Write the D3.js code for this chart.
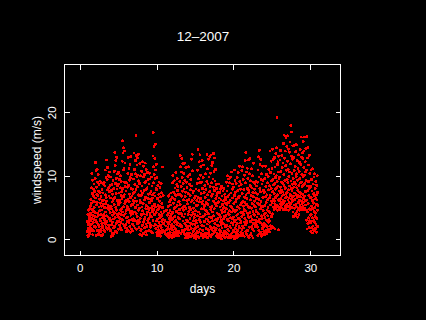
<!DOCTYPE html>
<html>
<head>
<meta charset="utf-8">
<script src="https://cdn.jsdelivr.net/npm/d3@7"></script>
<style>
  html, body { margin: 0; padding: 0; background: #000; }
  svg { display: block; }
</style>
</head>
<body>
<div id="my_chart"></div>
<script>
// half-hourly windspeed (m/s) for each day of december 2007, null = no reading
const dec01 = [1.2,2.8,0.6,3.9,1.7,0.4,2.3,4.6,1.1,3.0,0.8,2.5, 3.4,1.5,4.8,2.2,0.9,3.7,5.2,1.8,4.1,2.9,6.3,1.4, 5.6,2.4,8.1,3.3,10.4,4.7,1.6,7.2,3.8,9.3,0.7,6.0, 2.6,7.9,4.4,1.3,6.8,3.1,8.7,5.0,2.0,7.5,3.6,5.9]
const dec02 = [4.2,9.6,1.9,12.1,6.5,3.0,10.8,5.4,0.6,8.2,2.7,7.1, 3.5,11.0,5.8,1.4,9.0,4.1,6.9,2.3,10.2,7.6,3.8,0.9, 5.1,8.6,2.0,6.3,0.7,4.5,9.2,3.2,7.4,1.5,5.7,2.9, 1.2,6.7,3.9,8.9,0.6,5.2,2.5,7.8,4.6,1.8,6.1,3.4]
const dec03 = [2.1,7.3,0.8,5.5,8.8,3.6,1.4,6.2,4.0,9.0,2.6,5.0, 3.1,8.4,1.2,10.9,5.6,2.4,7.0,4.3,9.7,1.9,6.6,3.7, 6.0,12.5,2.8,9.4,4.9,11.3,1.6,7.8,3.5,10.1,5.3,8.1, 2.2,9.9,4.7,6.8,1.7,10.6,3.3,7.5,5.1,2.9,8.5,4.2]
const dec04 = [1.4,6.5,3.0,9.8,0.4,5.2,7.7,2.3,4.8,8.6,1.0,5.9, 3.8,0.6,7.1,2.7,9.3,4.4,1.8,6.3,3.2,8.0,0.9,5.5, 4.1,10.7,2.0,13.7,6.6,3.4,11.6,1.3,8.8,5.0,12.4,7.2, 2.5,9.6,4.6,12.9,1.1,7.9,3.9,10.3,6.1,2.8,8.4,5.7]
const dec05 = [3.6,8.7,1.6,10.5,5.4,2.9,7.3,4.1,9.4,2.2,6.2,3.3, 5.8,1.9,8.1,4.6,10.0,2.6,6.9,3.9,9.1,1.5,7.5,4.8, 6.4,12.3,3.1,15.5,8.0,4.3,13.6,2.4,10.9,6.7,14.4,5.1, 3.7,11.2,7.0,13.9,2.1,9.0,5.6,12.0,4.0,8.3,1.8,6.1]
const dec06 = [2.3,7.6,4.5,1.2,8.9,3.4,6.0,1.7,5.2,8.2,2.8,4.9, 3.5,10.4,6.3,1.4,12.9,4.7,8.5,2.6,11.1,5.9,3.0,9.3, 7.1,2.0,11.8,4.2,9.7,1.1,6.6,13.0,3.8,8.0,5.3,10.2, 4.4,1.6,6.8,3.1,7.9,2.4,5.5,1.3,4.0,7.2,2.9,6.1]
const dec07 = [3.2,9.5,5.7,13.6,2.1,7.4,11.0,4.3,8.6,1.8,6.5,10.3, 5.0,12.4,2.9,16.3,7.8,4.1,13.2,6.0,9.9,1.6,11.7,3.6, 8.3,2.5,12.8,5.4,10.1,3.0,7.0,13.4,4.6,9.2,1.9,6.8, 2.7,8.8,4.9,11.9,0.8,6.2,3.3,10.0,5.8,1.4,7.6,4.0]
const dec08 = [1.5,6.9,3.8,10.7,0.6,5.1,8.4,2.2,12.2,4.5,7.3,1.0, 5.6,9.8,2.7,11.5,4.0,0.9,7.7,3.1,10.2,6.2,1.8,8.9, 3.4,12.0,6.6,1.2,9.1,4.8,2.4,11.0,5.3,0.7,7.9,3.9, 2.0,8.1,4.3,10.5,1.3,6.4,3.0,9.4,5.0,2.6,7.1,4.7]
const dec09 = [3.3,8.7,1.4,10.4,5.8,2.5,7.2,4.1,9.5,1.9,6.3,3.7, 2.2,7.5,4.9,9.8,1.2,6.1,3.5,8.4,5.2,1.0,7.0,4.4, 6.5,13.1,3.0,16.8,8.9,4.7,11.4,2.1,14.6,7.3,10.2,5.5, 3.9,12.7,6.8,9.6,2.3,15.0,5.1,10.9,1.7,8.0,4.2,11.8]
const dec10 = [2.9,7.8,1.1,9.7,4.6,0.6,6.4,3.2,8.5,2.0,5.3,1.5, 4.8,0.9,7.1,2.6,9.0,3.9,1.3,6.0,3.4,8.2,0.7,5.1, 2.2,6.7,0.5,4.3,8.8,1.8,3.6,7.3,1.0,5.6,2.8,4.0, 1.4,5.0,null,11.4,3.1,null,6.9,null,2.5,null,null,4.4]
const dec11 = [null,1.2,null,null,3.0,null,null,null,0.8,null,2.1,null, null,4.6,null,1.5,null,null,2.7,null,0.5,3.8,null,1.9, 5.2,0.9,6.8,2.4,4.1,0.3,7.0,1.6,3.3,5.9,0.7,2.8, 4.5,1.1,6.2,3.6,0.4,5.4,2.2,7.3,1.8,4.0,0.6,3.1]
const dec12 = [2.4,6.6,0.3,8.9,4.2,1.5,10.0,3.3,0.8,5.7,2.0,7.4, 1.1,4.8,9.2,2.7,0.5,6.3,3.6,8.1,1.7,5.0,0.9,7.0, 3.0,10.5,1.4,6.9,4.4,0.6,8.6,2.3,9.6,5.3,1.0,7.7, 2.6,8.3,0.7,5.9,3.4,1.3,7.1,4.1,0.5,6.0,2.1,4.7]
const dec13 = [3.2,9.1,1.0,13.2,5.5,2.3,11.4,7.0,0.9,8.3,4.1,10.6, 2.0,6.8,12.7,3.7,9.7,1.4,7.6,5.0,11.9,2.9,8.8,4.6, 6.2,1.2,10.4,3.5,7.9,0.8,12.0,5.2,2.5,9.3,4.0,6.7, 1.6,7.4,0.2,11.3,4.8,2.2,9.0,3.0,0.5,6.1,8.2,1.9]
const dec14 = [0.9,5.6,2.8,9.9,0.3,7.2,3.9,11.4,1.5,6.3,4.4,0.6, 2.1,8.7,5.0,1.0,10.2,3.3,6.9,0.4,7.8,2.5,9.4,4.7, 5.9,1.7,12.6,3.8,8.4,0.8,13.4,6.1,2.4,10.8,4.2,7.3, 1.2,4.9,0.5,7.6,2.9,0.2,5.7,3.4,1.6,6.5,0.7,3.9]
const dec15 = [2.3,0.4,6.8,1.8,4.5,0.1,7.9,3.0,0.9,5.3,2.6,6.1, 1.3,8.8,3.7,0.5,10.9,5.4,2.0,14.1,6.6,1.1,9.5,4.3, 7.7,0.3,12.2,3.1,8.9,5.9,1.6,13.3,4.0,10.1,2.7,6.4, 3.5,11.5,1.0,7.2,0.6,9.0,4.8,2.2,12.4,5.6,0.8,8.0]
const dec16 = [1.4,6.0,0.2,9.7,3.6,0.7,11.7,4.9,2.1,7.4,0.4,5.3, 2.8,8.5,1.0,6.6,3.9,10.3,0.5,4.6,7.8,1.7,5.8,3.2, 0.9,9.1,4.4,13.4,2.4,7.0,0.3,11.1,5.5,3.0,8.7,1.5, 4.0,12.6,6.2,1.1,9.8,3.5,0.6,7.5,2.7,13.0,5.1,8.3]
const dec17 = [2.0,10.4,4.7,0.4,13.3,6.8,1.6,8.9,3.4,11.6,5.2,0.8, 7.1,2.9,12.1,4.3,9.5,1.3,6.0,13.5,3.7,8.2,1.9,10.7, 4.8,1.1,7.7,12.8,2.5,9.2,5.6,1.4,11.0,3.1,6.4,8.6, 1.7,5.3,0.5,8.0,3.0,6.9,0.9,4.1,7.3,2.2,0.3,5.8]
const dec18 = [3.3,0.6,5.9,2.1,8.7,4.0,0.2,6.5,1.5,3.8,7.4,0.9, 2.7,5.1,0.4,7.9,3.5,1.2,6.2,2.3,4.6,0.1,8.3,3.0, 1.8,6.8,4.2,0.7,5.5,2.6,7.6,1.0,4.9,3.2,0.5,6.1, 2.4,8.0,0.8,5.0,3.6,1.3,7.1,4.4,0.3,5.7,2.0,6.6]
const dec19 = [1.1,6.3,3.7,9.0,0.4,4.8,2.2,7.6,5.4,0.9,10.0,3.1, 6.7,1.6,8.4,4.1,0.2,5.8,2.9,9.5,1.3,7.0,3.9,0.6, 4.5,8.9,2.0,6.1,0.7,9.8,3.4,5.2,1.8,7.3,4.3,0.3, 2.6,10.6,5.0,1.0,7.9,3.2,0.5,6.5,8.7,2.3,4.7,1.4]
const dec20 = [3.5,0.4,8.2,5.6,1.2,10.9,2.8,6.9,0.1,4.4,9.3,1.7, 7.4,3.0,0.6,5.9,2.2,8.8,4.6,1.0,6.3,3.8,0.3,9.7, 2.5,5.1,1.4,7.7,0.8,4.0,10.5,3.3,6.6,0.5,8.4,2.0, 4.9,11.5,1.8,6.8,3.1,9.1,0.7,5.4,2.6,7.9,1.1,4.2]
const dec21 = [2.9,8.6,0.6,5.7,10.8,3.6,1.5,7.2,4.3,11.4,2.1,6.0, 0.9,9.4,3.9,5.2,1.8,7.8,4.7,0.5,10.1,2.7,6.6,3.3, 5.8,12.4,2.3,8.9,4.5,13.7,1.2,7.0,3.0,10.6,5.5,0.8, 6.4,2.6,11.2,4.1,8.0,1.4,9.6,3.7,0.4,7.3,5.1,12.5]
const dec22 = [3.4,7.7,0.3,10.3,5.0,1.9,12.7,4.2,8.5,0.7,6.2,2.8, 9.2,3.6,1.0,6.9,11.1,4.9,2.0,8.1,0.5,5.6,3.1,10.0, 1.6,7.4,4.4,0.2,9.0,2.5,6.7,12.0,3.9,1.3,7.9,5.3, 2.4,6.0,3.8,8.7,2.0,5.1,7.3,3.0,9.1,4.6,2.7,6.4]
const dec23 = [4.3,8.4,2.2,6.5,3.5,9.0,5.7,1.9,7.1,0.6,10.9,4.0, 2.8,13.0,6.3,1.4,9.8,3.2,14.0,5.5,0.9,8.0,11.8,2.6, 7.5,4.8,12.6,1.1,6.0,9.4,3.7,0.5,10.3,5.1,2.3,8.7, 3.3,11.5,1.7,6.6,0.8,9.3,4.5,2.0,7.7,5.2,1.2,3.9]
const dec24 = [2.5,7.4,1.0,5.3,9.6,3.4,0.8,6.7,11.5,4.1,2.2,8.3, 1.4,5.8,3.0,10.2,0.9,7.0,4.6,2.0,8.9,1.3,6.2,3.7, 5.0,9.9,2.7,7.8,1.6,4.4,11.0,3.2,6.5,1.2,8.4,2.9, 4.2,13.9,6.9,2.1,10.5,5.4,1.7,12.3,8.0,3.6,9.2,6.0]
const dec25 = [3.8,11.1,5.7,2.0,14.2,7.5,4.0,9.4,1.9,12.6,6.3,8.6, 5.1,10.3,7.2,4.7,12.9,6.0,8.8,1.6,11.4,5.5,9.7,7.9, 6.6,13.5,4.9,10.0,8.1,5.3,14.4,6.9,19.2,9.1,4.6,11.8, 7.0,5.2,12.2,8.4,1.5,10.6,6.2,13.1,5.0,9.5,7.6,4.8]
const dec26 = [6.1,9.8,4.7,12.5,7.3,5.6,14.0,8.2,6.4,10.7,5.0,7.7, 9.0,5.4,13.2,6.8,4.9,11.3,7.5,5.9,8.8,12.0,6.2,4.6, 7.0,15.1,5.7,10.2,8.5,16.4,6.0,12.8,4.8,9.3,7.9,13.9, 5.2,8.1,11.6,6.5,16.0,7.2,4.7,10.9,6.7,14.6,5.5,9.4]
const dec27 = [7.4,12.3,5.1,16.3,8.9,6.2,11.0,4.6,14.2,7.8,9.9,5.8, 6.5,10.6,13.7,5.3,8.4,15.3,7.1,4.9,11.9,6.9,17.9,9.2, 5.6,13.1,8.0,6.4,16.9,7.6,10.4,5.0,12.6,8.7,6.0,14.7, 4.3,9.6,6.8,12.9,3.6,8.2,5.4,10.8,7.3,14.8,4.9,9.0]
const dec28 = [6.3,11.5,4.0,8.7,13.8,5.5,3.7,9.9,7.0,14.9,5.1,10.3, 8.1,4.4,12.4,6.6,3.5,9.3,7.7,11.1,4.8,6.9,13.3,5.8, 3.9,8.5,10.7,6.2,12.1,4.6,7.4,9.6,5.3,14.1,6.7,8.9, 5.0,11.8,7.2,16.1,4.7,9.0,12.9,6.0,10.2,5.6,8.3,13.6]
const dec29 = [7.1,12.7,5.2,9.8,15.4,6.4,4.7,11.3,8.6,13.9,5.9,10.1, 6.8,16.1,4.9,8.8,12.2,7.5,5.4,10.6,14.3,6.1,9.3,4.6, 3.0,10.9,6.2,16.2,1.6,8.4,12.8,4.3,7.7,2.5,14.5,5.6, 9.1,3.4,11.7,6.9,1.9,8.0,13.2,4.8,2.9,10.4,6.5,3.8]
const dec30 = [2.6,8.3,4.7,1.2,10.9,3.9,6.6,1.8,9.4,5.2,2.9,7.6, 1.0,6.1,3.4,11.1,4.8,2.1,8.7,5.7,1.5,7.2,3.0,9.8, 4.4,1.3,6.9,2.7,10.3,5.0,3.6,8.0,1.7,6.4,4.1,9.1, 2.3,7.0,5.5,1.1,8.5,3.3,6.2,10.0,4.6,2.0,7.4,5.3]

const dayArrays = [dec01, dec02, dec03, dec04, dec05, dec06, dec07, dec08, dec09, dec10,
    dec11, dec12, dec13, dec14, dec15, dec16, dec17, dec18, dec19, dec20,
    dec21, dec22, dec23, dec24, dec25, dec26, dec27, dec28, dec29, dec30]

const xTicks = [0, 10, 20, 30]
const yTicks = [0, 10, 20]
const titleText = "12\u20132007"
const xLabel = "days"
const yLabel = "windspeed (m/s)"

/**
 * Turn the day arrays into a flat list of {day, speed} points
 * readings are every half hour, so index j of day i sits at i + j/48
 */
function getPoints() {
    var result = []
    dayArrays.forEach(function (arr, i) {
        arr.forEach(function (v, j) {
            if (v !== null) {
                result.push({ day: i + 1 + j / arr.length, speed: v })
            }
        })
    })
    return result
}

/**
 * Draw the scatter plot
 * @param {object} data - list of points
 * @param {string} id - container
 */
function drawScatter(data, id) {
    var width = 426
    var height = 320
    var box = { left: 64, top: 64, right: 340, bottom: 255 }
    var font = "'Liberation Sans', Arial, Helvetica, sans-serif"

    var svg = d3.select(id)
        .append("svg")
        .attr("width", width)
        .attr("height", height)
        .style("background", "#000")

    svg.append("rect")
        .attr("width", width)
        .attr("height", height)
        .attr("fill", "#000")

    // scales, calibrated so ticks land where the reference puts them
    var x = d3.scaleLinear().domain([0, 30]).range([79.7, 310.3])
    var y = d3.scaleLinear().domain([0, 20]).range([239.3, 112.3])

    // the points
    svg.append("g")
        .selectAll("circle")
        .data(data)
        .enter()
        .append("circle")
        .attr("cx", function (d) { return x(d.day) })
        .attr("cy", function (d) { return y(d.speed) })
        .attr("r", 1.5)
        .attr("fill", "#ff0000")
        .attr("shape-rendering", "crispEdges")

    // box
    svg.append("rect")
        .attr("x", box.left + 0.5)
        .attr("y", box.top + 0.5)
        .attr("width", box.right - box.left)
        .attr("height", box.bottom - box.top)
        .attr("fill", "none")
        .attr("stroke", "#fff")
        .attr("stroke-width", 1)
        .attr("shape-rendering", "crispEdges")

    // bottom axis with labels, ticks pointing inward
    var xAxis = svg.append("g")
        .attr("transform", "translate(0," + (box.bottom + 0.5) + ")")
        .call(d3.axisBottom(x).tickValues(xTicks).tickSize(-5).tickPadding(8).tickFormat(d3.format("d")))
    // top axis, ticks only
    var xTop = svg.append("g")
        .attr("transform", "translate(0," + (box.top + 0.5) + ")")
        .call(d3.axisTop(x).tickValues(xTicks).tickSize(-5).tickFormat(""))
    // left axis with rotated labels
    var yAxis = svg.append("g")
        .attr("transform", "translate(" + (box.left + 0.5) + ",0)")
        .call(d3.axisLeft(y).tickValues(yTicks).tickSize(-5).tickFormat(d3.format("d")))
    // right axis, ticks only
    var yRight = svg.append("g")
        .attr("transform", "translate(" + (box.right + 0.5) + ",0)")
        .call(d3.axisRight(y).tickValues(yTicks).tickSize(-5).tickFormat(""))

    svg.selectAll(".domain").remove()
    svg.selectAll(".tick line")
        .attr("stroke", "#fff")
        .attr("shape-rendering", "crispEdges")
    svg.selectAll(".tick text")
        .attr("fill", "#fff")
        .style("font-family", font)
        .style("font-size", "11.5px")

    yAxis.selectAll(".tick text")
        .attr("x", 0)
        .attr("dy", 0)
        .attr("text-anchor", "middle")
        .attr("transform", "translate(-8.5,0) rotate(-90)")

    // titles
    svg.append("text")
        .attr("x", 203)
        .attr("y", 41)
        .attr("text-anchor", "middle")
        .attr("fill", "#fff")
        .style("font-family", font)
        .style("font-size", "13.5px")
        .text(titleText)

    svg.append("text")
        .attr("x", 202.5)
        .attr("y", 292.5)
        .attr("text-anchor", "middle")
        .attr("fill", "#fff")
        .style("font-family", font)
        .style("font-size", "12px")
        .text(xLabel)

    svg.append("text")
        .attr("transform", "translate(40.5,160) rotate(-90)")
        .attr("text-anchor", "middle")
        .attr("fill", "#fff")
        .style("font-family", font)
        .style("font-size", "12px")
        .text(yLabel)
}

drawScatter(getPoints(), "#my_chart")
</script>
</body>
</html>
